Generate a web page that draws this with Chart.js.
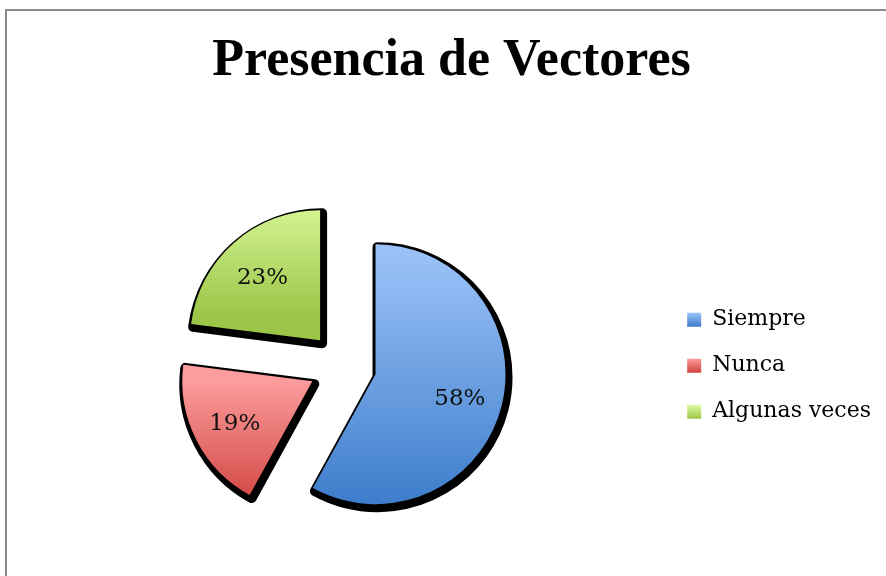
<!DOCTYPE html>
<html lang="es">
<head>
<meta charset="utf-8">
<title>Presencia de Vectores</title>
<script src="https://cdn.jsdelivr.net/npm/chart.js@4.4.1/dist/chart.umd.min.js"></script>
<style>
  html, body { margin: 0; padding: 0; background: #fff; overflow: hidden; width: 886px; height: 576px; }
  .marco { position: absolute; left: 5px; top: 9px; width: 1000px; height: 1000px; border: 2px solid #8a8a8a; }
  #grafico { position: absolute; left: 0; top: 0; }
</style>
</head>
<body>
<div class="marco"></div>
<canvas id="grafico" width="886" height="576"></canvas>
<script>
const categorias = ["Siempre", "Nunca", "Algunas veces"];
const porcentajes = [58, 19, 23];

const coloresClaros = ["#9BC2F8", "#FC9C9C", "#DFFEA3"];
const coloresOscuros = ["#3B7BCA", "#CE413D", "#9CC648"];
const coloresMedios = ["#6B9FE1", "#E56F6C", "#BEE276"];

const SEPARACION = 34; // distancia de la porción al centro

function mitad(arco) {
  return (arco.startAngle + arco.endAngle) / 2;
}

function extremosY(arco, dy) {
  const cy = arco.y + dy;
  let min = cy, max = cy;
  for (let k = 0; k <= 60; k++) {
    const a = arco.startAngle + ((arco.endAngle - arco.startAngle) * k) / 60;
    const py = cy + Math.sin(a) * arco.outerRadius;
    min = Math.min(min, py);
    max = Math.max(max, py);
  }
  return [min, max];
}

// porciones separadas con sombra negra y degradado vertical
const rebanadas = {
  id: "rebanadas",
  beforeDraw(chart) {
    const leyenda = chart.legend;
    if (!leyenda || !leyenda.legendHitBoxes) return;
    leyenda.legendItems.forEach((item, i) => {
      const caja = leyenda.legendHitBoxes[i];
      if (!caja) return;
      const top = caja.top + (22 - 14) / 2;
      const g = chart.ctx.createLinearGradient(0, top, 0, top + 14);
      g.addColorStop(0, coloresClaros[i]);
      g.addColorStop(1, coloresOscuros[i]);
      item.fillStyle = g;
    });
  },
  beforeDatasetsDraw(chart) {
    const ctx = chart.ctx;
    const arcos = chart.getDatasetMeta(0).data;
    const originales = arcos.map((a) => a.options);

    arcos.forEach((arco, i) => {
      const m = mitad(arco);
      arco.options = Object.assign({}, originales[i], {
        backgroundColor: "#000",
        borderColor: "#000",
        borderWidth: 10,
        borderJoinStyle: "round",
        borderAlign: "center",
      });
      ctx.save();
      ctx.translate(Math.cos(m) * SEPARACION + 2, Math.sin(m) * SEPARACION + 3);
      arco.draw(ctx);
      ctx.restore();
    });

    arcos.forEach((arco, i) => {
      const m = mitad(arco);
      const dx = Math.cos(m) * SEPARACION;
      const dy = Math.sin(m) * SEPARACION;
      const [y0, y1] = extremosY(arco, dy);
      const degradado = ctx.createLinearGradient(0, y0, 0, y1);
      degradado.addColorStop(0, coloresClaros[i]);
      degradado.addColorStop(1, coloresOscuros[i]);
      arco.options = Object.assign({}, originales[i], { backgroundColor: degradado, borderWidth: 0 });
      ctx.save();
      ctx.translate(dx, dy);
      arco.draw(ctx);
      ctx.restore();
      arco.options = originales[i];
    });
    return false;
  },
  afterDraw(chart) {
    const ctx = chart.ctx;
    const arcos = chart.getDatasetMeta(0).data;
    const total = porcentajes.reduce((a, b) => a + b, 0);
    ctx.save();
    ctx.font = "23px 'DejaVu Serif'";
    ctx.fillStyle = "#111";
    ctx.textAlign = "center";
    ctx.textBaseline = "middle";
    arcos.forEach((arco, i) => {
      const m = mitad(arco);
      const d = SEPARACION + arco.outerRadius * 0.67;
      const texto = Math.round((porcentajes[i] / total) * 100) + "%";
      ctx.fillText(texto, arco.x + Math.cos(m) * d, arco.y + Math.sin(m) * d + 3);
    });
    ctx.restore();
  },
};

new Chart(document.getElementById("grafico"), {
  type: "pie",
  data: {
    labels: categorias,
    datasets: [
      {
        data: porcentajes,
        backgroundColor: coloresMedios,
        borderWidth: 0,
        radius: 130,
      },
    ],
  },
  options: {
    responsive: false,
    animation: false,
    events: [],
    layout: { padding: { left: 22, right: 5, top: 0, bottom: 0 } },
    plugins: {
      title: {
        display: true,
        text: "Presencia de Vectores",
        color: "#000",
        font: { family: "'Liberation Serif'", size: 52, weight: "bold" },
        padding: { top: 30, bottom: 63 },
      },
      legend: {
        position: "right",
        fullSize: false,
        labels: {
          color: "#000",
          boxWidth: 14,
          boxHeight: 14,
          padding: 24,
          font: { family: "'DejaVu Serif'", size: 22 },
        },
      },
      tooltip: { enabled: false },
    },
  },
  plugins: [rebanadas],
});
</script>
</body>
</html>
